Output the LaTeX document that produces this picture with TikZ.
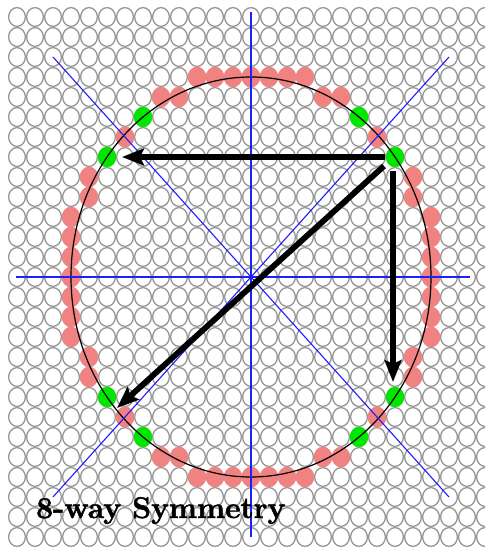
\documentclass[tikz,border=0pt]{standalone}
\usepackage{fontspec}
\newfontfamily\heavyfont[FakeBold=1.6]{Latin Modern Roman}
\usetikzlibrary{arrows.meta}
\definecolor{cellgray}{RGB}{150,150,150}
\definecolor{dotpink}{RGB}{240,130,130}
\definecolor{dotgreen}{RGB}{0,230,0}
\definecolor{axisblue}{RGB}{30,30,255}
\tikzset{
  cell/.style={draw=cellgray, line width=1.3pt, fill=white},
  pinkdot/.style={fill=dotpink},
  greendot/.style={fill=dotgreen},
  axis/.style={draw=axisblue, line width=1.1pt},
  bigarrow/.style={draw=black, line width=5.8pt, -{Stealth[length=22pt,width=17pt,inset=4pt]}},
  circ/.style={draw=black, line width=1.2pt}
}
\begin{document}
\begin{tikzpicture}[x=1pt,y=-1pt]
\useasboundingbox (0,0) rectangle (485,548);
\fill[white] (0,0) rectangle (485,548);
\begin{scope}
\clip (0,0) rectangle (485,548);
% background grid of pixel cells
\foreach \i in {-13,...,13}{
  \foreach \j in {-13,...,13}{
    \draw[cell] ({251+18*\i},{277+20*\j}) ellipse [x radius=8.4, y radius=9.4];
  }
}
% pink dots of the rasterised circle (one octant, reflected 8 ways)
\foreach \a/\b in {0/10,1/10,2/10,3/10,4/9,5/9,7/7}{
  \foreach \sx in {1,-1}{
    \foreach \sy in {1,-1}{
      \fill[pinkdot] ({251+18*\sx*\a},{277+20*\sy*\b}) ellipse [x radius=9.2, y radius=10.2];
      \fill[pinkdot] ({251+18*\sx*\b},{277+20*\sy*\a}) ellipse [x radius=9.2, y radius=10.2];
    }
  }
}
% green dots
\foreach \sx in {1,-1}{
  \foreach \sy in {1,-1}{
    \fill[greendot] ({251+18*\sx*6},{277+20*\sy*8}) ellipse [x radius=9.2, y radius=10.2];
    \fill[greendot] ({251+18*\sx*8},{277+20*\sy*6}) ellipse [x radius=9.2, y radius=10.2];
  }
}
% ideal circle
\draw[circ] (251,277) ellipse [x radius=180, y radius=200];
% axes of symmetry
\draw[axis] (251,12) -- (251,537);
\draw[axis] (16,277) -- (470,277);
\draw[axis] (53,57) -- (449,497);
\draw[axis] (449,57) -- (53,497);
% named points
\coordinate (ur) at (395,157);
\coordinate (ul) at (107,157);
\coordinate (lr) at (395,397);
\coordinate (ll) at (107,397);
% arrows
\draw[bigarrow] ([xshift=-10pt]ur) -- ([xshift=15pt]ul);
\draw[bigarrow] ([xshift=-2pt,yshift=-14pt]ur) -- ([xshift=-2pt,yshift=15pt]lr);
\draw[bigarrow] ([xshift=-11pt,yshift=-9pt]ur) -- ([xshift=10pt,yshift=-11pt]ll);
\end{scope}
\node[anchor=base west, inner sep=0pt, font=\fontsize{30}{33}\selectfont\heavyfont\bfseries] (title) at (36,518) {8-way Symmetry};
\end{tikzpicture}
\end{document}
